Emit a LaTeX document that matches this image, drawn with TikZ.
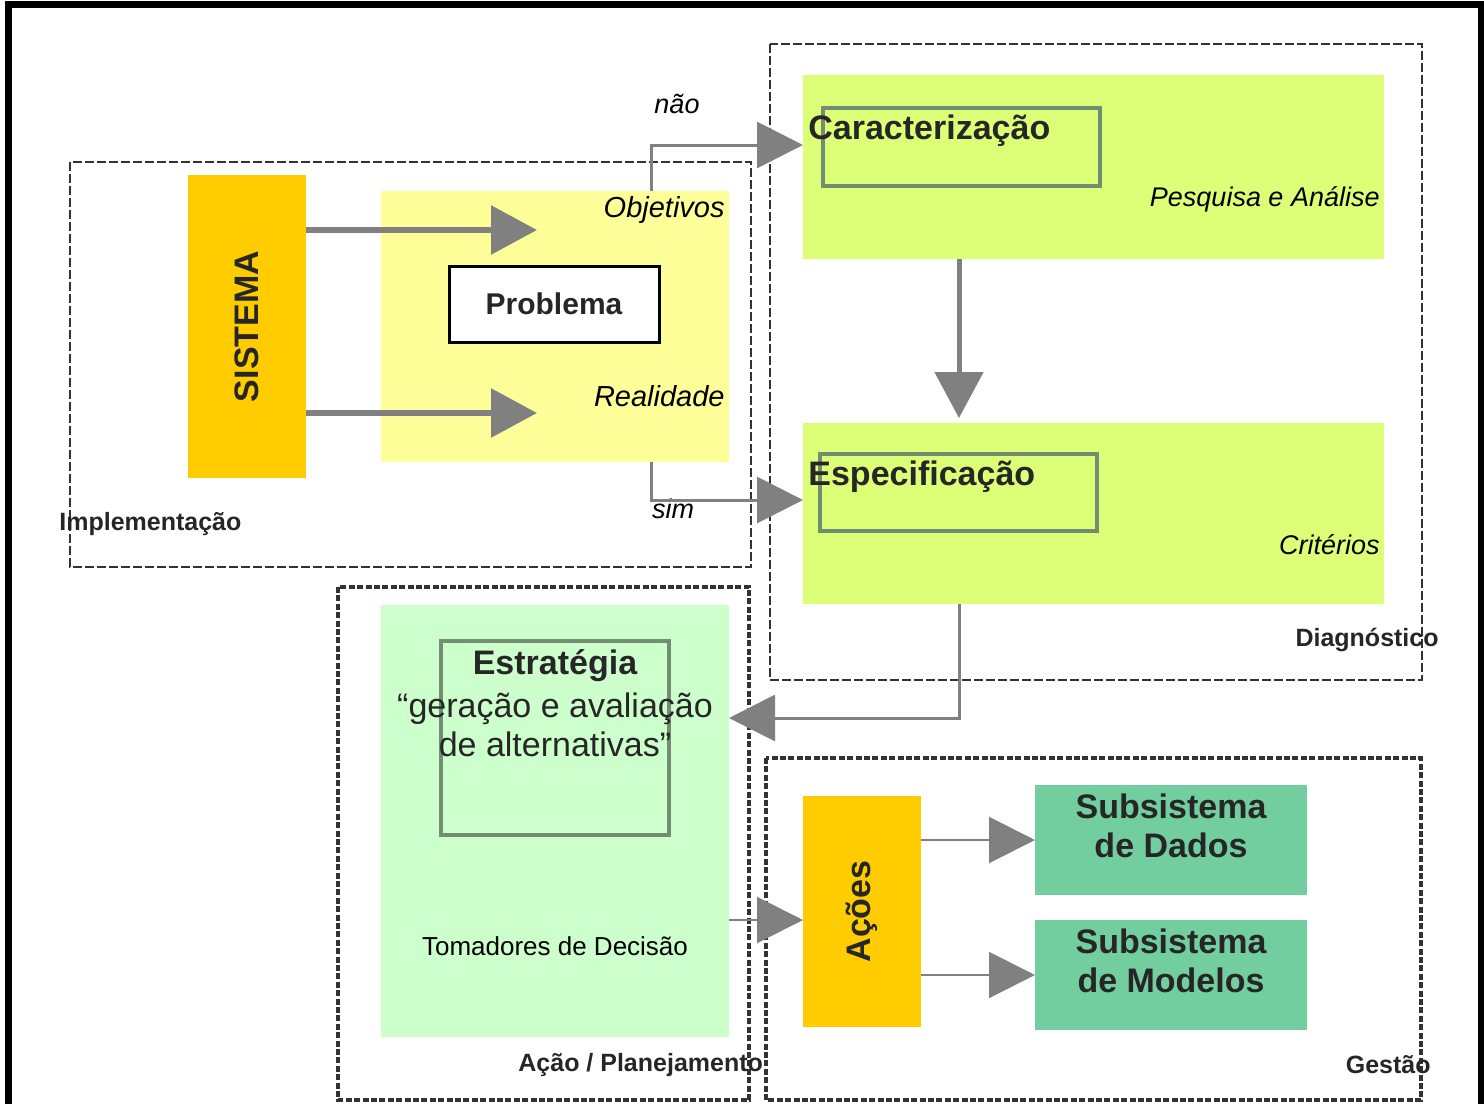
\documentclass[tikz,border=0pt]{standalone}
\usepackage{fontspec}
\setmainfont{Liberation Sans}
\usepackage{xcolor}
\usetikzlibrary{arrows.meta,positioning}
\definecolor{orangex}{HTML}{FFCC00}
\definecolor{yellowx}{HTML}{FFFF99}
\definecolor{limex}{HTML}{DDFF77}
\definecolor{mintx}{HTML}{CCFFCC}
\definecolor{tealx}{HTML}{73CE9F}
\definecolor{grayx}{HTML}{808080}
\definecolor{zonex}{HTML}{333333}
\tikzset{
  blk/.style={inner sep=0pt,outer sep=0pt,align=center},
  inbox/.style={blk,draw=grayx!90!green,line width=2pt},
  zone/.style={zonex,line width=1.2pt,dash pattern=on 4.5pt off 1.5pt},
  heavyzone/.style={zonex,line width=1.7pt,dash pattern=on 3pt off 1.2pt},
  bigar/.style={-{Triangle[length=23pt,width=24pt]},grayx,line width=3pt},
  ar/.style={-{Triangle[length=23pt,width=23pt]},grayx,line width=1.5pt},
  thinar/.style={-{Triangle[length=23pt,width=23pt]},grayx,line width=1pt},
  title/.style={font=\fontsize{17}{20}\selectfont\bfseries,text=black!85,inner sep=1pt},
  body/.style={font=\fontsize{17}{19.5}\selectfont,text=black!85,inner sep=1pt,align=center},
  note/.style={font=\fontsize{14.5}{17}\selectfont\itshape,inner sep=1pt},
  tag/.style={font=\fontsize{12.5}{15}\selectfont\bfseries,text=black!85,inner sep=1pt}
}
\begin{document}
\begin{tikzpicture}[x=0.5pt,y=-0.5pt]
\useasboundingbox (0,0) rectangle (1484,1104);
\draw[line width=3.5pt] (8,1104) -- (8,4) -- (1481,4) -- (1481,1104);
% zones
\draw[zone] (70,162) rectangle (751,567);
\draw[zone] (770,44) rectangle (1422,680);
\draw[heavyzone] (338,587) rectangle (749,1100);
\draw[heavyzone] (766,758) rectangle (1421,1100);
\node[tag,anchor=west] (impl) at (57,524) {Implementação};
\node[tag,anchor=east] (diag) at (1441,640) {Diagnóstico};
\node[tag,anchor=west] (acpl) at (516,1065) {Ação / Planejamento};
\node[tag,anchor=east] (gest) at (1433,1065) {Gestão};
% implementacao
\node[blk,fill=orangex,minimum width=59pt,minimum height=151.5pt] (sis) at (247,326.5) {};
\node[title,rotate=90] (sist) at (sis) {SISTEMA};
\node[blk,fill=yellowx,minimum width=174pt,minimum height=135.5pt] (yel) at (555,326.5) {};
\node[blk,fill=white,draw=black,line width=1.5pt,minimum width=105pt,minimum height=38pt,
  font=\fontsize{15}{18}\selectfont\bfseries,text=black!85] (prob) at (554,304) {Problema};
\node[note,anchor=east] (obj) at (727,210) {Objetivos};
\node[note,anchor=east] (real) at (727,396) {Realidade};
\coordinate (objtip) at (537,230);
\coordinate (realtip) at (537,413);
\draw[bigar] (sis.east |- objtip) -- (objtip);
\draw[bigar] (sis.east |- realtip) -- (realtip);
% diagnostico
\node[blk,fill=limex,minimum width=290.5pt,minimum height=92pt] (car) at (1093.5,167) {};
\node[inbox,minimum width=138.5pt,minimum height=39pt] (carin) at (961.5,147) {};
\node[title,anchor=west] (cart) at (806,131) {Caracterização};
\node[note,anchor=east,font=\fontsize{13.5}{16}\selectfont\itshape] (pesq) at (1382,199) {Pesquisa e Análise};
\node[blk,fill=limex,minimum width=290.5pt,minimum height=90.5pt] (esp) at (1093.5,513.5) {};
\node[inbox,minimum width=138.5pt,minimum height=38.5pt] (espin) at (958.5,492.5) {};
\node[title,anchor=west] (espt) at (806,477) {Especificação};
\node[note,anchor=east,font=\fontsize{13.5}{16}\selectfont\itshape] (crit) at (1382,545) {Critérios};
\coordinate (nao) at (651,145);
\coordinate (sim) at (651,500);
\node[note,font=\fontsize{13.5}{16}\selectfont\itshape] (naot) at (677,104) {não};
\node[note,font=\fontsize{13.5}{16}\selectfont\itshape] (simt) at (673,509) {sim};
\draw[ar] (yel.north -| nao) -- (nao) -- (car.west |- nao);
\draw[ar] (yel.south -| sim) -- (sim) -- (esp.west |- sim);
\draw[-{Triangle[length=23pt,width=24pt]},grayx,line width=2.5pt] (car.south -| 959,0) -- (959,418);
% acao / planejamento
\node[blk,fill=mintx,minimum width=174pt,minimum height=216pt] (est) at (555,821) {};
\node[inbox,minimum width=114pt,minimum height=97pt] (estin) at (555,738) {};
\node[title] (estt) at (555,666) {Estratégia};
\node[body] (estq) at (555,725) {“geração e avaliação\\de alternativas”};
\node[font=\fontsize{13}{15}\selectfont,inner sep=1pt] (toma) at (555,946) {Tomadores de Decisão};
\coordinate (turn) at (959,718);
\draw[ar] (esp.south -| turn) -- (turn) -- (est.east |- turn);
% gestao
\node[blk,fill=orangex,minimum width=59pt,minimum height=115.5pt] (aco) at (862,911.5) {};
\node[title,rotate=90] (acot) at (aco) {Ações};
\node[blk,fill=tealx,minimum width=136pt,minimum height=55pt] (dad) at (1171,840) {};
\node[title,align=center,font=\fontsize{17}{19.5}\selectfont\bfseries] (dadt) at (1171,826) {Subsistema\\de Dados};
\node[blk,fill=tealx,minimum width=136pt,minimum height=55pt] (mod) at (1171,975) {};
\node[title,align=center,font=\fontsize{17}{19.5}\selectfont\bfseries] (modt) at (1171,961) {Subsistema\\de Modelos};
\draw[thinar] (est.east |- 0,920) -- (aco.west |- 0,920);
\draw[thinar] (aco.east |- dad) -- (dad.west);
\draw[thinar] (aco.east |- mod) -- (mod.west);
\end{tikzpicture}
\end{document}
